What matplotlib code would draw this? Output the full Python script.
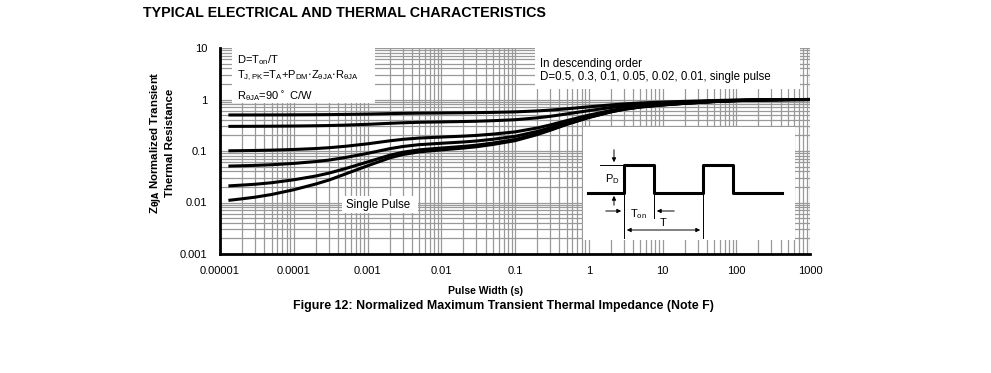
import matplotlib
matplotlib.use("Agg")
import matplotlib.pyplot as plt
from matplotlib.patches import Rectangle
from matplotlib.ticker import FixedLocator, FixedFormatter, NullFormatter, LogLocator

plt.rcParams['font.family'] = ['Liberation Sans', 'DejaVu Sans']

# pulse width (s)
pulse_width = [1.3e-5, 2e-5, 3e-5, 5e-5, 1e-4, 2e-4, 3e-4, 5e-4, 1e-3, 2e-3,
               3e-3, 5e-3, 1e-2, 2e-2, 3e-2, 5e-2, 0.1, 0.2, 0.3, 0.5,
               1, 2, 3, 5, 10, 20, 30, 50, 100, 200, 300, 500, 1000]

# normalized transient thermal resistance, in descending order of duty cycle
z_d050 = [0.5005, 0.5009, 0.5014, 0.5022, 0.5039, 0.5065, 0.5088, 0.513, 0.521, 0.532,
          0.538, 0.5435, 0.548, 0.5525, 0.556, 0.5625, 0.575, 0.6, 0.6225, 0.66,
          0.72, 0.785, 0.82, 0.855, 0.89, 0.92, 0.935, 0.955, 0.975, 0.9875,
          0.9925, 0.9975, 1.0]
z_d030 = [0.3007, 0.3013, 0.3019, 0.303, 0.3055, 0.3091, 0.3123, 0.3182, 0.3294, 0.3448,
          0.3532, 0.3609, 0.3672, 0.3735, 0.3784, 0.3875, 0.405, 0.44, 0.4715, 0.524,
          0.608, 0.699, 0.748, 0.797, 0.846, 0.888, 0.909, 0.937, 0.965, 0.9825,
          0.9895, 0.9965, 1.0]
z_d010 = [0.1009, 0.1016, 0.1024, 0.1039, 0.107, 0.1117, 0.1158, 0.1234, 0.1378, 0.1576,
          0.1684, 0.1783, 0.1864, 0.1945, 0.2008, 0.2125, 0.235, 0.28, 0.3205, 0.388,
          0.496, 0.613, 0.676, 0.739, 0.802, 0.856, 0.883, 0.919, 0.955, 0.9775,
          0.9865, 0.9955, 1.0]
z_d005 = [0.051, 0.0517, 0.0526, 0.0541, 0.0574, 0.0624, 0.0666, 0.0747, 0.0899, 0.1108,
          0.1222, 0.1327, 0.1412, 0.1498, 0.1564, 0.1688, 0.1925, 0.24, 0.2828, 0.354,
          0.468, 0.5915, 0.658, 0.7245, 0.791, 0.848, 0.8765, 0.9145, 0.9525, 0.9763,
          0.9858, 0.9953, 1.0]
z_d002 = [0.021, 0.0218, 0.0226, 0.0242, 0.0276, 0.0327, 0.0372, 0.0455, 0.0612, 0.0827,
          0.0945, 0.1053, 0.1141, 0.1229, 0.1298, 0.1425, 0.167, 0.216, 0.2601, 0.3336,
          0.4512, 0.5786, 0.6472, 0.7158, 0.7844, 0.8432, 0.8726, 0.9118, 0.951, 0.9755,
          0.9853, 0.9951, 1.0]
z_d001 = [0.011, 0.0118, 0.0127, 0.0143, 0.0177, 0.0229, 0.0273, 0.0357, 0.0516, 0.0734,
          0.0852, 0.0961, 0.105, 0.114, 0.1209, 0.1338, 0.1585, 0.208, 0.2526, 0.3268,
          0.4456, 0.5743, 0.6436, 0.7129, 0.7822, 0.8416, 0.8713, 0.9109, 0.9505, 0.9753,
          0.9852, 0.9951, 1.0]
curves = [z_d050, z_d030, z_d010, z_d005, z_d002, z_d001]

x_ticks = [1e-5, 1e-4, 1e-3, 1e-2, 1e-1, 1, 10, 100, 1000]
x_labels = ["0.00001", "0.0001", "0.001", "0.01", "0.1", "1", "10", "100", "1000"]
y_ticks = [0.001, 0.01, 0.1, 1, 10]
y_labels = ["0.001", "0.01", "0.1", "1", "10"]

W, H = 991, 373


def fx(x):
    return x / W


def fy(y):
    return 1 - y / H


fig = plt.figure(figsize=(9.91, 3.73), dpi=100)
ax = fig.add_axes([fx(220), fy(254), fx(810) - fx(220), fy(48) - fy(254)])

for z in curves:
    ax.plot(pulse_width, z, color="black", lw=2.2, zorder=4, solid_capstyle="butt")

ax.set_xscale("log")
ax.set_yscale("log")
ax.set_xlim(1e-5, 1000)
ax.set_ylim(0.001, 10)
ax.xaxis.set_major_locator(FixedLocator(x_ticks))
ax.xaxis.set_major_formatter(FixedFormatter(x_labels))
ax.yaxis.set_major_locator(FixedLocator(y_ticks))
ax.yaxis.set_major_formatter(FixedFormatter(y_labels))
ax.xaxis.set_minor_locator(LogLocator(base=10, subs=range(2, 10), numticks=20))
ax.yaxis.set_minor_locator(LogLocator(base=10, subs=range(2, 10), numticks=20))
ax.xaxis.set_minor_formatter(NullFormatter())
ax.yaxis.set_minor_formatter(NullFormatter())
ax.tick_params(which="both", length=0, labelsize=8, pad=9)
ax.grid(True, which="both", color="#999999", lw=0.9)
ax.set_axisbelow(True)
for s in ["top", "right"]:
    ax.spines[s].set_visible(False)
for s in ["left", "bottom"]:
    ax.spines[s].set_linewidth(2)

# white boxes holding notes
for (x0, y0, x1, y1) in [(232, 48, 375, 103), (535, 47, 800, 89), (342, 196, 418, 213)]:
    ax.add_patch(Rectangle((fx(x0), fy(y1)), fx(x1) - fx(x0), fy(y0) - fy(y1),
                           transform=fig.transFigure, facecolor="white",
                           edgecolor="none", zorder=2))

fs = 8
fig.text(fx(237), fy(60), r"D=T$_\mathregular{on}$/T", fontsize=fs, va="center")
fig.text(fx(237), fy(76),
         r"T$_\mathregular{J,PK}$=T$_\mathregular{A}$+P$_\mathregular{DM}$$\cdot$Z$_{\mathregular{\theta JA}}$$\cdot$R$_{\mathregular{\theta JA}}$",
         fontsize=fs, va="center")
fig.text(fx(237), fy(96), r"R$_{\mathregular{\theta JA}}$=90$^\circ$ C/W", fontsize=fs, va="center")
fig.text(fx(540), fy(64), "In descending order", fontsize=8.3, va="center")
fig.text(fx(540), fy(77), "D=0.5, 0.3, 0.1, 0.05, 0.02, 0.01, single pulse", fontsize=8.3, va="center")
fig.text(fx(346), fy(205), "Single Pulse", fontsize=8.3, va="center")

# inset pulse diagram
ins = fig.add_axes([fx(583), fy(240), fx(795) - fx(583), fy(127) - fy(240)])
ins.set_xlim(583, 795)
ins.set_ylim(240, 127)
ins.axis("off")
ins.add_patch(Rectangle((583, 127), 212, 113, facecolor="white", edgecolor="none"))
ins.plot([588, 624, 624, 654, 654, 703, 703, 733, 733, 782],
         [193, 193, 165, 165, 193, 193, 165, 165, 193, 193], color="black", lw=2.2)
ins.plot([600, 624], [165, 165], color="black", lw=0.7)
ins.plot([624, 624], [193, 238], color="black", lw=0.7)
ins.plot([654, 654], [193, 218], color="black", lw=0.7)
ins.plot([703, 703], [193, 238], color="black", lw=0.7)
arrow = dict(arrowstyle="-|>", color="black", lw=0.7, mutation_scale=6)
ins.annotate("", xy=(614, 165), xytext=(614, 147), arrowprops=arrow)
ins.annotate("", xy=(614, 193), xytext=(614, 208), arrowprops=arrow)
ins.annotate("", xy=(624, 211), xytext=(603, 211), arrowprops=arrow)
ins.annotate("", xy=(654, 211), xytext=(677, 211), arrowprops=arrow)
ins.annotate("", xy=(624, 230), xytext=(703, 230),
             arrowprops=dict(arrowstyle="<|-|>", color="black", lw=0.7, mutation_scale=6))
ins.text(612, 179, r"P$_\mathregular{D}$", fontsize=fs, ha="center", va="center")
ins.text(638, 214, r"T$_\mathregular{on}$", fontsize=fs, ha="center", va="center")
ins.text(663, 223, "T", fontsize=fs, ha="center", va="center")

fig.text(fx(143), fy(13), "TYPICAL ELECTRICAL AND THERMAL CHARACTERISTICS",
         fontsize=10.3, fontweight="bold", va="center")
fig.text(fx(162), fy(143),
         "Z$_{\\mathbf{\\theta JA}}$ Normalized Transient\nThermal Resistance",
         fontsize=8.2, fontweight="bold", rotation=90, ha="center", va="center",
         multialignment="center", linespacing=1.0)
fig.text(fx(485), fy(291), "Pulse Width (s)", fontsize=7.5, fontweight="bold",
         ha="center", va="center")
fig.text(fx(503), fy(306), "Figure 12: Normalized Maximum Transient Thermal Impedance (Note F)",
         fontsize=8.9, fontweight="bold", ha="center", va="center")

fig.savefig("out.png", dpi=100)
